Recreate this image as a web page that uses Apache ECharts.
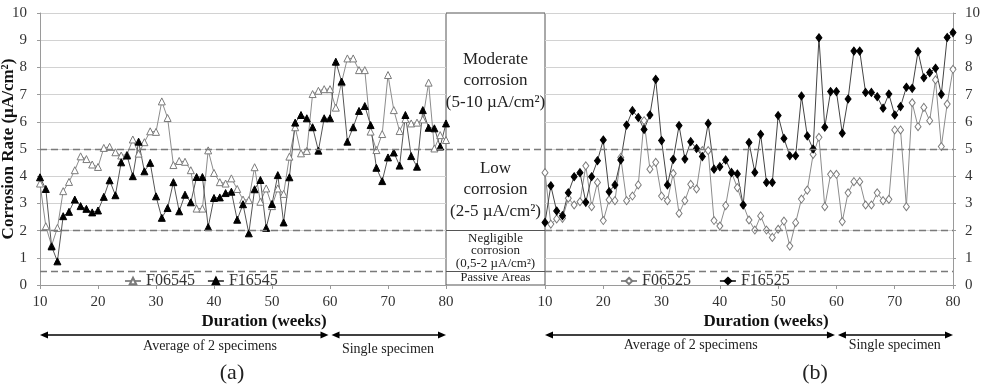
<!DOCTYPE html>
<html><head><meta charset="utf-8">
<script src="https://cdn.jsdelivr.net/npm/echarts@6/dist/echarts.min.js"></script>
<style>html,body{margin:0;padding:0;background:#fff}#c{width:985px;height:386px}</style>
</head><body><div id="c"></div>
<script>
// ---- data ----
const weeks = [10,11,12,13,14,15,16,17,18,19,20,21,22,23,24,25,26,27,28,29,30,31,32,33,34,35,36,37,38,39,40,41,42,43,44,45,46,47,48,49,50,51,52,53,54,55,56,57,58,59,60,61,62,63,64,65,66,67,68,69,70,71,72,73,74,75,76,77,78,79,80];
const xTicks = [10,20,30,40,50,60,70,80];
const yTicks = [0,1,2,3,4,5,6,7,8,9,10];
const f06545 = [3.73,2.16,1.45,2.1,3.45,3.79,4.22,4.73,4.63,4.43,4.34,5.04,5.08,4.88,4.76,4.8,5.35,4.83,5.25,5.65,5.63,6.75,6.14,4.41,4.56,4.53,4.22,2.81,2.81,4.95,4.12,3.78,3.73,3.92,3.53,3.14,3.12,4.33,3.06,3.55,2.9,3.55,3.35,4.72,5.8,4.84,4.93,7.02,7.14,7.2,7.2,6.52,7.45,8.33,8.33,7.9,7.9,5.64,4.96,5.55,7.72,6.43,5.66,6.1,5.94,5.97,6.09,7.44,5.02,5.51,5.33];
const f16545 = [3.96,3.53,1.42,0.87,2.53,2.69,3.14,2.9,2.8,2.67,2.74,3.24,3.85,3.3,4.51,4.76,4.0,5.27,4.18,4.49,3.26,2.47,2.83,3.78,2.71,3.32,3.04,3.97,3.97,2.13,3.2,3.22,3.38,3.43,2.4,2.97,1.9,3.52,3.86,2.1,2.98,4.04,2.3,3.96,5.97,6.25,6.13,5.8,4.94,6.13,6.13,8.21,7.48,5.27,5.8,6.4,6.58,5.88,4.31,3.82,4.69,4.87,4.39,6.25,4.74,4.35,6.43,5.78,5.76,5.09,5.94];
const f06525 = [4.13,2.24,2.43,2.45,3.19,2.94,3.06,4.38,2.88,3.77,2.37,3.13,3.1,4.69,3.1,3.27,3.68,6.04,4.26,4.51,3.27,3.1,4.1,2.63,3.1,3.7,3.53,4.94,4.94,2.37,2.17,2.92,4.14,3.58,2.95,2.39,2.02,2.54,2.02,1.75,2.05,2.35,1.43,2.29,3.16,3.49,4.8,5.43,2.88,4.07,4.07,2.33,3.39,3.8,3.8,2.94,2.94,3.39,3.1,3.15,5.7,5.7,2.88,6.7,5.82,6.53,6.04,7.54,5.09,6.65,7.93];
const f16525 = [2.3,3.65,2.72,2.55,3.39,3.98,4.13,3.04,3.98,4.57,5.33,3.43,3.68,4.6,5.88,6.41,6.16,5.72,6.25,7.56,5.31,3.68,4.62,5.86,4.63,5.27,5.02,4.72,5.94,4.26,4.35,4.6,4.13,4.08,2.94,5.24,4.14,5.54,3.77,3.77,6.23,5.39,4.75,4.75,6.95,5.48,5.0,9.09,5.8,7.11,7.11,5.58,6.84,8.6,8.6,7.08,7.08,6.92,6.5,7.02,6.25,6.56,7.27,7.23,8.58,7.62,7.81,7.97,7.01,9.1,9.28];
const zoneLimits = [5, 2, 0.5];
const zoneBands = [[5,10],[2,5],[0.5,2],[0,0.5]];
const zoneLabels = ['Moderate\ncorrosion\n(5-10 µA/cm²)','Low\ncorrosion\n(2-5 µA/cm²)','Negligible\ncorrosion\n(0,5-2 µA/cm²)','Passive Areas'];
const spans = [[10,60,'Average of 2 specimens'],[60,80,'Single specimen']];
const panelLabels = ['(a)','(b)'];

// ---- chart ----
const FONT = 'Liberation Serif';
const chart = echarts.init(document.getElementById('c'), null, {renderer:'canvas'});
const pairs = v => weeks.map((w,i)=>[w,v[i]]);

function xAx(g, pad){
  return {gridIndex:g, type:'value', min:xTicks[0], max:xTicks[xTicks.length-1], interval:10,
    axisLine:{show:true,onZero:false,lineStyle:{color:'#9a9a9a'}},
    axisTick:{show:true,length:4,lineStyle:{color:'#9a9a9a'}},
    axisLabel:{color:'#333',fontSize:15,margin:10,fontFamily:FONT},
    splitLine:{show:false},
    name:'Duration (weeks)', nameLocation:'middle', nameGap:28, nameMoveOverlap:false,
    nameTextStyle:{fontWeight:'bold',fontSize:17,color:'#111',fontFamily:FONT,padding:[0,0,0,pad]}};
}
function yAx(g, pos, withName){
  const a = {gridIndex:g, type:'value', min:yTicks[0], max:yTicks[yTicks.length-1], interval:1, position:pos,
    axisLine:{show:true,lineStyle:{color:'#9a9a9a'}},
    axisTick:{show:true,length:3,lineStyle:{color:'#9a9a9a'}},
    axisLabel:{color:'#333',fontSize:15,margin: pos==='left'?13:12,fontFamily:FONT},
    splitLine:{show:true,lineStyle:{color:'#d2d2d2',width:1}}};
  if (withName){
    a.name='Corrosion Rate (µA/cm²)'; a.nameLocation='middle'; a.nameGap=23; a.nameMoveOverlap=false;
    a.nameTextStyle={fontWeight:'bold',fontSize:17,color:'#111',fontFamily:FONT};
  }
  return a;
}
const dashLines = {silent:true, symbol:['none','none'], label:{show:false},
  lineStyle:{color:'#7a7a7a',type:[7,4],width:1.4},
  data: zoneLimits.map(v=>({yAxis:v}))};

function lineSeries(name, data, g, sym, filled, lineColor, extra){
  return Object.assign({name, type:'line', xAxisIndex:g, yAxisIndex:g, data:pairs(data),
    symbol:sym, symbolSize: sym==='diamond'?[6,8]:7, showSymbol:true,
    lineStyle:{color:lineColor,width:1},
    itemStyle:{color: filled?'#000':'#fff', borderColor: filled?'#000':'#7a7a7a', borderWidth:1},
    emphasis:{disabled:true}}, extra||{});
}

const option = {
  animation:false,
  textStyle:{fontFamily:FONT},
  grid:[
    {left:40, top:13, width:406, height:272, outerBoundsMode:'none', containLabel:false},
    {left:545, top:13, width:408, height:272, outerBoundsMode:'none', containLabel:false},
    {left:446, top:13, width:99, height:272, outerBoundsMode:'none', containLabel:false, show:true, borderColor:'#555', borderWidth:1, backgroundColor:'rgba(0,0,0,0)'}
  ],
  xAxis:[ xAx(0,42), xAx(1,34), {gridIndex:2,type:'value',min:0,max:1,show:false} ],
  yAxis:[ yAx(0,'left',true), yAx(1,'right',false), {gridIndex:2,type:'value',min:0,max:10,show:false} ],
  legend:[
    {data:['F06545','F16545'], left:119, top:268, itemWidth:16, itemHeight:8, itemGap:12,
     textStyle:{fontSize:16,color:'#333',fontFamily:FONT}},
    {data:['F06525','F16525'], left:615, top:268, itemWidth:16, itemHeight:8, itemGap:28,
     textStyle:{fontSize:16,color:'#333',fontFamily:FONT}}
  ],
  series:[
    lineSeries('F06545', f06545, 0, 'triangle', false, '#8c8c8c'),
    lineSeries('F16545', f16545, 0, 'triangle', true, '#555', {markLine:dashLines}),
    lineSeries('F06525', f06525, 1, 'diamond', false, '#8c8c8c'),
    lineSeries('F16525', f16525, 1, 'diamond', true, '#444', {markLine:dashLines}),
    {type:'line', xAxisIndex:2, yAxisIndex:2, data:[], silent:true,
     markLine:{silent:true, symbol:['none','none'], label:{show:false},
       data: zoneLimits.map((v,i)=>({yAxis:v, lineStyle:{color: i===0?'#7a7a7a':'#555', type: i===0?[7,4]:'solid', width: i===0?1.4:1}}))},
     markArea:{silent:true, itemStyle:{color:'rgba(0,0,0,0)'},
       data: zoneBands.map((b,i)=>[
         {yAxis:b[0], name:zoneLabels[i],
          label:{show:true, position:'inside', formatter:p=>p.name, color:'#222', fontFamily:FONT, align:'center',
                 fontSize: i<2?17:(i===2?13:12.5), lineHeight: i<2?21.5:12.5}},
         {yAxis:b[1]}])}}
  ]
};
chart.setOption(option);

// annotations below the axes, positioned from the axes
function px(g,x,y){ return chart.convertToPixel({gridIndex:g},[x,y]); }
const gfx = [];
function arrow(x1,x2,y){
  gfx.push({type:'line', shape:{x1:x1+3,y1:y,x2:x2-3,y2:y}, style:{stroke:'#000',lineWidth:1.5}});
  gfx.push({type:'polygon', shape:{points:[[x1,y],[x1+8,y-3.5],[x1+8,y+3.5]]}, style:{fill:'#000'}});
  gfx.push({type:'polygon', shape:{points:[[x2,y],[x2-8,y-3.5],[x2-8,y+3.5]]}, style:{fill:'#000'}});
}
function text(t,x,y,font){
  gfx.push({type:'text', x, y, style:{text:t, font, fill:'#222', align:'center', verticalAlign:'middle'}});
}
const textShift = [[25,0],[0,0]];
const textDrop = [[11,14],[10,10]];
[0,1].forEach(g=>{
  const base = px(g,10,0)[1];
  spans.forEach((s,i)=>{
    const a = px(g,s[0],0)[0], b = px(g,s[1],0)[0];
    const ay = base + 50;
    arrow(a + (i===1?1.5:0), b - (i===0?1.5:0), ay);
    text(s[2], (a+b)/2 + textShift[g][i], ay + textDrop[g][i], '14px "Liberation Serif"');
  });
});
text(panelLabels[0], 232, 373, '22px "Liberation Serif"');
text(panelLabels[1], 815, 373, '22px "Liberation Serif"');
chart.setOption({graphic:gfx});
</script>
</body></html>
